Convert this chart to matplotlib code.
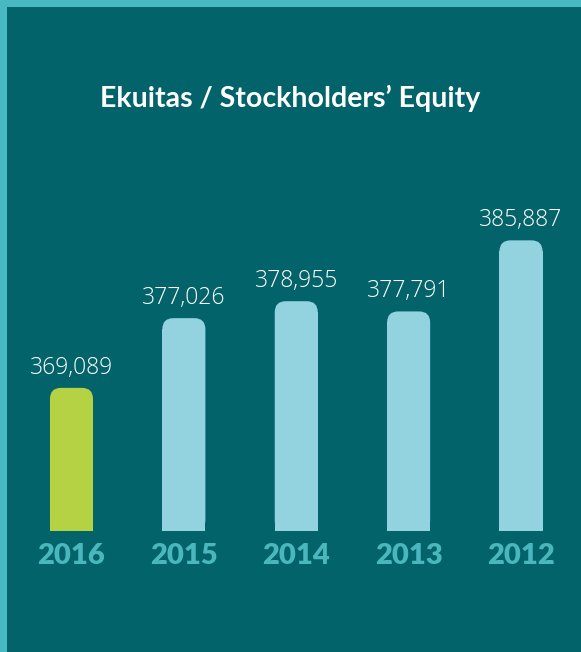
import matplotlib
matplotlib.use("Agg")
import matplotlib.pyplot as plt
from matplotlib.patches import FancyBboxPatch, Rectangle

years = ["2016", "2015", "2014", "2013", "2012"]
equity = [369089, 377026, 378955, 377791, 385887]
bar_colors = ["#b5d144", "#93d3e0", "#93d3e0", "#93d3e0", "#93d3e0"]
title = "Ekuitas / Stockholders\u2019 Equity"

bg = "#02646a"
border = "#48b8c2"
year_color = "#4ab6be"

W, H = 581, 652
fig = plt.figure(figsize=(W / 100, H / 100), dpi=100, facecolor=bg)

# light teal frame on top and left edges
fig.patches.append(Rectangle((0, 1 - 7 / H), 1, 7 / H, transform=fig.transFigure,
                             facecolor=border, edgecolor="none"))
fig.patches.append(Rectangle((0, 0), 7 / W, 1, transform=fig.transFigure,
                             facecolor=border, edgecolor="none"))

ax = fig.add_axes([15.3 / W, 121 / H, 561.9 / W, 331 / H])
ax.set_facecolor("none")
ymin = 352790
ax.set_xlim(-0.5, 4.5)
ax.set_ylim(ymin, ymin + 331 / 0.008782)
ax.axis("off")

x = list(range(len(years)))
width = 0.383
radius_px = 11

# data units per pixel
xu = (ax.get_xlim()[1] - ax.get_xlim()[0]) / 561.9
yu = (ax.get_ylim()[1] - ax.get_ylim()[0]) / 331
rx = radius_px * xu
ry = radius_px * yu

for xi, v, c in zip(x, equity, bar_colors):
    # rounded top
    p = FancyBboxPatch((xi - width / 2, ymin), width, v - ymin,
                       boxstyle=f"round,pad=0,rounding_size={rx}",
                       mutation_aspect=yu / xu,
                       facecolor=c, edgecolor="none")
    ax.add_patch(p)
# square bottom part
ax.bar(x, [v - ymin - ry for v in equity], bottom=ymin, width=width,
       color=bar_colors, edgecolor="none")

for xi, v in zip(x, equity):
    ax.annotate(f"{v:,}", (xi, v), xytext=(0, 6), textcoords="offset points",
                ha="center", va="bottom", color="white", fontsize=16.5,
                family="Open Sans", fontweight="light")
    ax.annotate(years[xi], (xi, ymin), xytext=(0, -9),
                textcoords="offset points", ha="center", va="top",
                color=year_color, fontsize=21, family="Lato", fontweight="heavy")

fig.text(290 / W, 1 - 98 / H, title, ha="center", va="center", color="white",
         fontsize=20.5, family="Lato", fontweight="bold")

fig.savefig("out.png", dpi=100, facecolor=bg)
